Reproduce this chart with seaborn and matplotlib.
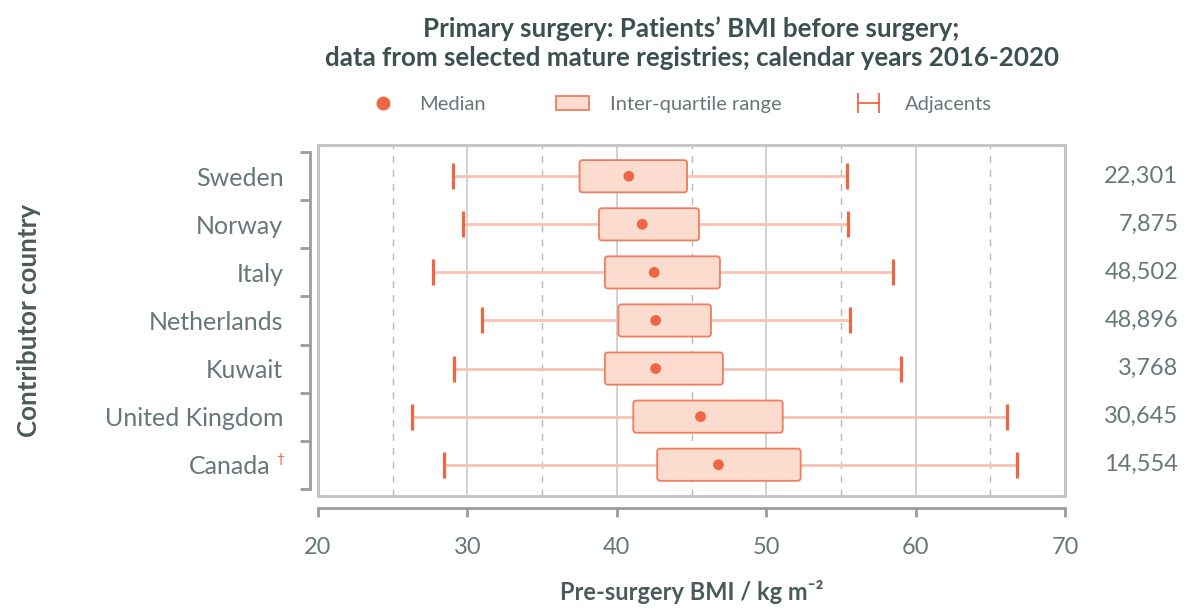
import numpy as np
import matplotlib
matplotlib.use("Agg")
import matplotlib.pyplot as plt
import seaborn as sns
from matplotlib.patches import FancyBboxPatch, Patch, Rectangle
from matplotlib.lines import Line2D
from matplotlib.legend_handler import HandlerLine2D
from matplotlib.transforms import ScaledTranslation

# ---- data ----
countries = ["Sweden", "Norway", "Italy", "Netherlands", "Kuwait", "United Kingdom", "Canada"]
low_adj = [29.0, 29.7, 27.7, 31.0, 29.1, 26.3, 28.4]
q1 = [37.5, 38.8, 39.2, 40.1, 39.2, 41.1, 42.7]
median = [40.8, 41.7, 42.5, 42.6, 42.6, 45.6, 46.8]
q3 = [44.7, 45.5, 46.9, 46.3, 47.1, 51.1, 52.3]
high_adj = [55.4, 55.5, 58.5, 55.6, 59.0, 66.1, 66.8]
counts = ["22,301", "7,875", "48,502", "48,896", "3,768", "30,645", "14,554"]
x_ticks = [20, 30, 40, 50, 60, 70]
x_minor = [25, 35, 45, 55, 65]

ORANGE = "#ef6644"
BOX_FC = "#fbdccf"
BOX_EC = "#f07e5e"
WHISK = "#f6c3b3"
TXT = "#66777a"
DARK = "#3b5150"
LAB = "#4b5b5a"
SPINE = "#9c9c9c"

sns.set_theme(style="white")
plt.rcParams["font.family"] = ["Lato", "DejaVu Sans"]

fig = plt.figure(figsize=(11.85, 6.13), dpi=100)
ax = fig.add_axes([0.2684, 0.1909, 0.6304, 0.5726])

pos = np.arange(len(countries))
df_med = {"median": median, "pos": pos}

# grid
for v in x_ticks[1:-1]:
    ax.axvline(v, color="#cfcfcf", lw=1.3, zorder=0)
for v in x_minor:
    ax.axvline(v, color="#b8b8b8", lw=1.0, ls=(0, (5, 5)), zorder=0)

# whiskers
ax.hlines(pos, low_adj, high_adj, color=WHISK, lw=2.0, zorder=1)
cap_h = 0.27
ax.vlines(low_adj, pos - cap_h, pos + cap_h, color=ORANGE, lw=2.3, zorder=2)
ax.vlines(high_adj, pos - cap_h, pos + cap_h, color=ORANGE, lw=2.3, zorder=2)

# boxes
box_h = 0.67
for p, a, b in zip(pos, q1, q3):
    ax.add_patch(FancyBboxPatch((a, p - box_h / 2), b - a, box_h,
                                boxstyle="round,pad=0,rounding_size=0.22",
                                mutation_aspect=0.3,
                                fc=BOX_FC, ec=BOX_EC, lw=1.3, zorder=3))

# medians
sns.scatterplot(x="median", y="pos", data=df_med, s=60, color=ORANGE,
                edgecolor="none", zorder=4, legend=False, ax=ax)

ax.set_xlim(20, 70)
ax.set_ylim(6.65, -0.65)

# frame
ax.add_patch(Rectangle((0, 0), 1, 1, transform=ax.transAxes, fill=False,
                       ec="#c6c6c6", lw=2.2, zorder=5, clip_on=False))

# spines
for s in ["top", "right"]:
    ax.spines[s].set_visible(False)
ax.spines["left"].set_position(("outward", 6))
ax.spines["bottom"].set_position(("outward", 8.7))
for s in ["left", "bottom"]:
    ax.spines[s].set_color(SPINE)
    ax.spines[s].set_linewidth(2.0)
ax.spines["left"].set_bounds(-0.5, 6.5)
ax.spines["bottom"].set_bounds(20, 70)

ax.set_xticks(x_ticks)
ax.set_xticklabels([str(v) for v in x_ticks])
ax.tick_params(axis="x", which="major", direction="out", length=6.5, width=2.0,
               color=SPINE, labelsize=17, labelcolor=TXT, pad=14, bottom=True)
ax.set_yticks(pos)
ax.set_yticklabels(countries)
ax.set_yticks(np.arange(-0.5, len(countries)), minor=True)
ax.tick_params(axis="y", which="major", length=0, labelsize=18, labelcolor=TXT, pad=19, left=True)
ax.tick_params(axis="y", which="minor", direction="out", length=7, width=2.0, color=SPINE, left=True)

ax.set_xlabel("Pre-surgery BMI / kg m\u207b\u00b2", fontsize=17, fontweight="bold",
              color=LAB, labelpad=16)
ax.set_ylabel("Contributor country", fontsize=18.6, fontweight="bold", color=LAB, labelpad=46)

# dagger for Canada
can = ax.get_yticklabels()[6]
can.set_transform(can.get_transform() + ScaledTranslation(-13 / 100, 0, fig.dpi_scale_trans))
ax.annotate("\u2020", xy=(0, 6), xycoords=ax.get_yaxis_transform(),
            xytext=(-27, 4), textcoords="offset points", color=ORANGE,
            fontsize=10, ha="center", va="center")

# counts on right
for p, c in zip(pos, counts):
    ax.annotate(c, xy=(1, p), xycoords=ax.get_yaxis_transform(), xytext=(81.5, 0),
                textcoords="offset points", ha="right", va="center",
                fontsize=17, color=TXT)

# title
ax.set_title("Primary surgery: Patients\u2019 BMI before surgery;\n"
             "data from selected mature registries; calendar years 2016-2020",
             fontsize=18.6, fontweight="bold", color=DARK, pad=57, linespacing=1.25)

# legend
h_med = Line2D([], [], marker="o", ls="none", color=ORANGE, markersize=10, markeredgewidth=0)
h_iqr = Patch(fc=BOX_FC, ec=BOX_EC, lw=1.3)
h_adj = Line2D([], [], color=ORANGE, lw=1.3, marker="|", markersize=14, markeredgewidth=1.3)
fig.legend([h_med, h_iqr, h_adj], ["Median", "Inter-quartile range", "Adjacents"],
           loc="center", bbox_to_anchor=(0.573, 0.829), ncol=3, frameon=False,
           fontsize=14.5, labelcolor=TXT, handlelength=1.64, handletextpad=1.0,
           columnspacing=3.5, handler_map={h_adj: HandlerLine2D(numpoints=2)})

fig.savefig("out.png", dpi=100)
